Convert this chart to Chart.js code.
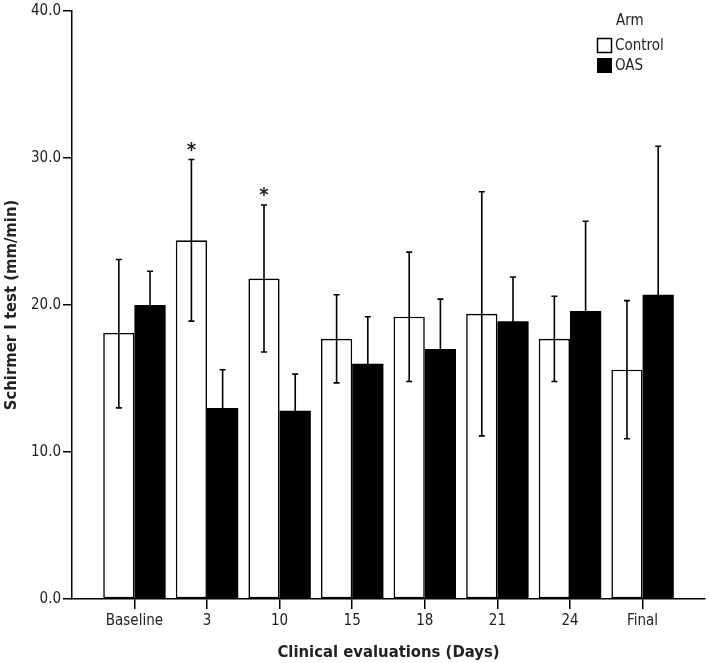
<!DOCTYPE html>
<html>
<head>
<meta charset="utf-8">
<script src="https://cdn.jsdelivr.net/npm/chart.js@4"></script>
<style>
  html, body { margin: 0; padding: 0; background: #fff; }
</style>
</head>
<body>
<canvas id="myChart" width="709" height="663"></canvas>
<script>
// days of the clinical evaluations
const labels = ['Baseline', '3', '10', '15', '18', '21', '24', 'Final'];

// Schirmer I test means and error bar ends (mm/min)
const controlMean = [18.1, 24.4, 21.8, 17.7, 19.2, 19.4, 17.7, 15.6];
const controlHigh = [23.1, 29.9, 26.8, 20.7, 23.6, 27.7, 20.6, 20.3];
const controlLow  = [13.0, 18.9, 16.8, 14.7, 14.8, 11.1, 14.8, 10.9];

const oasMean = [20.0, 13.0, 12.8, 16.0, 17.0, 18.9, 19.6, 20.7];
const oasHigh = [22.3, 15.6, 15.3, 19.2, 20.4, 21.9, 25.7, 30.8];
const oasLow  = [17.7, 10.4, 10.3, 12.8, 13.6, 15.9, 13.5, 10.6];

// significance marks over the control bars
const controlMarks = ['', '*', '*', '', '', '', '', ''];

const yTicks = [0, 10, 20, 30, 40];

const FONT = "'DejaVu Sans Condensed', 'DejaVu Sans', sans-serif";
const INK = '#222';

const errorBars = {
  id: 'errorBars',
  afterDatasetsDraw(chart) {
    const ctx = chart.ctx;
    const y = chart.scales.y;
    const ends = [[controlLow, controlHigh], [oasLow, oasHigh]];
    ctx.save();
    ctx.strokeStyle = '#000';
    ctx.lineWidth = 1.6;
    chart.data.datasets.forEach((ds, i) => {
      const meta = chart.getDatasetMeta(i);
      meta.data.forEach((bar, j) => {
        const top = y.getPixelForValue(ends[i][1][j]);
        const bot = y.getPixelForValue(ends[i][0][j]);
        ctx.beginPath();
        ctx.moveTo(bar.x, top); ctx.lineTo(bar.x, bot);
        ctx.moveTo(bar.x - 3, top); ctx.lineTo(bar.x + 3, top);
        ctx.moveTo(bar.x - 3, bot); ctx.lineTo(bar.x + 3, bot);
        ctx.stroke();
        if (i === 0 && controlMarks[j]) {
          ctx.fillStyle = INK;
          ctx.font = 'bold 20px ' + FONT;
          ctx.textAlign = 'center';
          ctx.textBaseline = 'middle';
          ctx.fillText(controlMarks[j], bar.x, top - 9);
        }
      });
    });
    ctx.restore();
  }
};

// legend drawn inside the plot, top right
const armLegend = {
  id: 'armLegend',
  afterDraw(chart) {
    const ctx = chart.ctx;
    ctx.save();
    ctx.fillStyle = INK;
    ctx.font = '15px ' + FONT;
    ctx.textBaseline = 'middle';
    ctx.textAlign = 'left';
    ctx.fillText('Arm', 616, 21);
    ctx.lineWidth = 1.5;
    ctx.strokeStyle = '#000';
    ctx.fillStyle = '#fff';
    ctx.fillRect(597.5, 38.5, 14, 14);
    ctx.strokeRect(597.5, 38.5, 14, 14);
    ctx.fillStyle = '#000';
    ctx.fillRect(597, 58, 15, 15);
    ctx.fillStyle = INK;
    ctx.fillText(chart.data.datasets[0].label, 615, 46);
    ctx.fillText(chart.data.datasets[1].label, 615, 66);
    ctx.restore();
  }
};

const ctx = document.getElementById('myChart');
const config = {
  type: 'bar',
  data: {
    datasets: [{
      label: 'Control',
      data: controlMean.map((v, i) => ({ x: i, y: v })),
      backgroundColor: '#fff',
      borderColor: '#000',
      borderWidth: 1.6,
      borderSkipped: false
    }, {
      label: 'OAS',
      data: oasMean.map((v, i) => ({ x: i, y: v })),
      backgroundColor: '#000',
      borderColor: '#000',
      borderWidth: 0
    }]
  },
  options: {
    responsive: false,
    animation: false,
    devicePixelRatio: 1,
    categoryPercentage: 0.86,
    barPercentage: 1.0,
    layout: { padding: { top: 9, right: 4, left: 0, bottom: 0 } },
    plugins: { legend: { display: false }, tooltip: { enabled: false } },
    scales: {
      x: {
        type: 'linear',
        min: -0.86,
        max: 7.86,
        offset: false,
        afterBuildTicks: s => { s.ticks = labels.map((_, i) => ({ value: i })); },
        afterFit: s => { s.height = 64; },
        ticks: {
          callback: v => labels[v],
          color: INK,
          font: { family: FONT, size: 15 },
          padding: 3,
          maxRotation: 0,
          autoSkip: false
        },
        grid: { offset: false, drawOnChartArea: false, tickLength: 10, color: '#000', lineWidth: 1.5 },
        border: { color: '#000', width: 1.5 },
        title: {
          display: true,
          text: 'Clinical evaluations (Days)',
          color: INK,
          font: { family: FONT, size: 16.5, weight: 'bold' },
          padding: { top: 4, bottom: 0 }
        }
      },
      y: {
        min: 0,
        max: 40,
        afterBuildTicks: s => { s.ticks = yTicks.map(v => ({ value: v })); },
        afterFit: s => { s.width = 72; },
        ticks: {
          callback: v => v.toFixed(1),
          color: INK,
          font: { family: FONT, size: 15 },
          padding: 2
        },
        grid: { drawOnChartArea: false, tickLength: 9, color: '#000', lineWidth: 1.5 },
        border: { color: '#000', width: 1.5 },
        title: {
          display: true,
          text: 'Schirmer I test (mm/min)',
          color: INK,
          font: { family: FONT, size: 16.5, weight: 'bold' },
          padding: { top: 2, bottom: 0 }
        }
      }
    }
  },
  plugins: [errorBars, armLegend]
};

const chart = new Chart(ctx, config);
</script>
</body>
</html>
